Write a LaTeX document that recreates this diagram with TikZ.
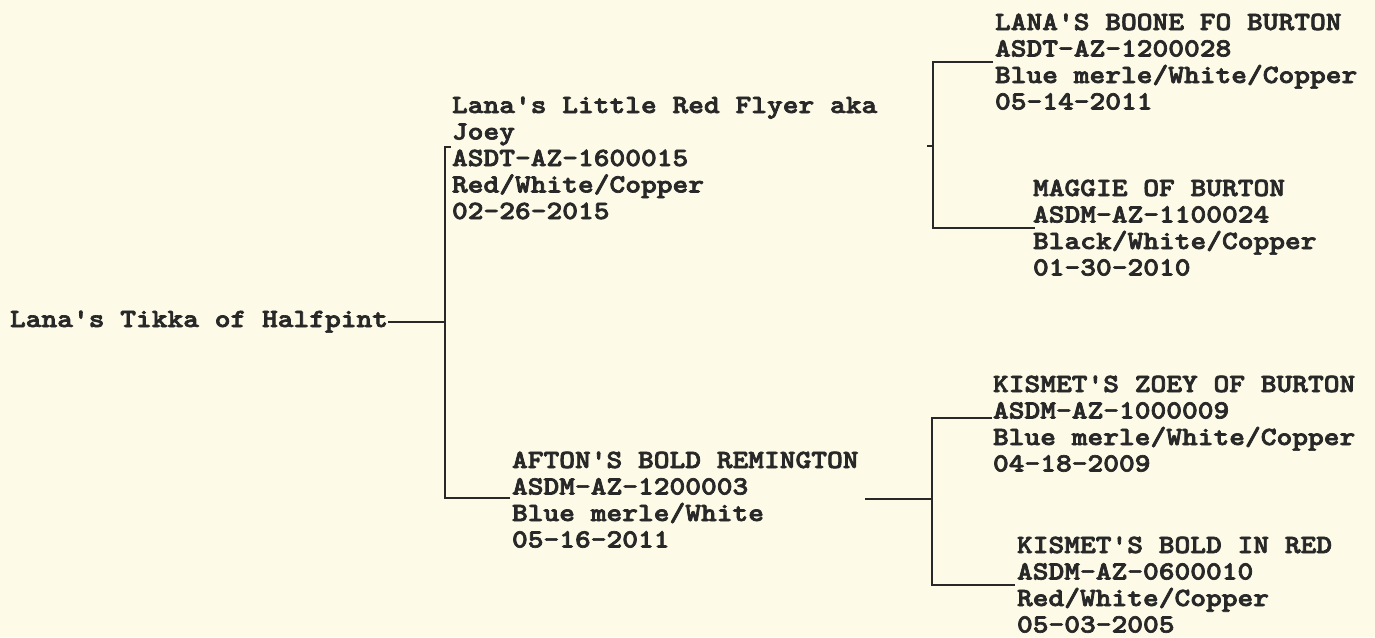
\documentclass[tikz,border=0pt]{standalone}
\usepackage{graphicx}
\usepackage{fontspec}
\newfontfamily\pedfont[FakeBold=2.5]{lmmonolt10-bold.otf}
\definecolor{paper}{RGB}{253,251,231}
\definecolor{ink}{RGB}{40,40,40}
\newcommand\pedlines[1]{\scalebox{1.143}[1]{\begin{tabular}[t]{@{}l@{}}#1\end{tabular}}}
\begin{document}
\begin{tikzpicture}[x=1pt,y=-1pt,
  ped/.style={anchor=base west, inner sep=0pt, outer sep=0pt, text=ink,
    font=\fontsize{26.25}{26.5}\selectfont\pedfont},
  link/.style={draw=ink, line width=2.4pt}]
\fill[paper] (0,0) rectangle (1375,637);
\useasboundingbox (0,0) rectangle (1375,637);

\node[ped] (tikka) at (10,327) {\pedlines{Lana's Tikka of Halfpint}};
\node[ped] (joey) at (452,113) {\pedlines{Lana's Little Red Flyer aka\\Joey\\ASDT-AZ-1600015\\Red/White/Copper\\02-26-2015}};
\node[ped] (afton) at (512,468) {\pedlines{AFTON'S BOLD REMINGTON\\ASDM-AZ-1200003\\Blue merle/White\\05-16-2011}};
\node[ped] (boone) at (995,30) {\pedlines{LANA'S BOONE FO BURTON\\ASDT-AZ-1200028\\Blue merle/White/Copper\\05-14-2011}};
\node[ped] (maggie) at (1033,196) {\pedlines{MAGGIE OF BURTON\\ASDM-AZ-1100024\\Black/White/Copper\\01-30-2010}};
\node[ped] (zoey) at (993,392) {\pedlines{KISMET'S ZOEY OF BURTON\\ASDM-AZ-1000009\\Blue merle/White/Copper\\04-18-2009}};
\node[ped] (kbold) at (1017,553) {\pedlines{KISMET'S BOLD IN RED\\ASDM-AZ-0600010\\Red/White/Copper\\05-03-2005}};

% first generation bracket
\coordinate (atop) at (445,147);
\coordinate (abot) at (445,498);
\coordinate (atick) at (451,147);
\coordinate (aend) at (510,498);
\draw[link] (tikka.east) -- (tikka.east -| atop);
\draw[link] (atick) -- (atop) -- (abot) -- (aend);

% upper second generation bracket
\coordinate (btop) at (933,62);
\coordinate (bbot) at (933,228);
\coordinate (bmid) at (933,146);
\coordinate (bin) at (927,146);
\coordinate (btopend) at (993,62);
\coordinate (bbotend) at (1035,228);
\draw[link] (btopend) -- (btop) -- (bbot) -- (bbotend);
\draw[link] (bin) -- (bmid);

% lower second generation bracket
\coordinate (cin) at (865,499);
\coordinate (cmid) at (932,499);
\coordinate (ctop) at (932,418);
\coordinate (cbot) at (932,585);
\coordinate (ctopend) at (992,418);
\coordinate (cbotend) at (1015,585);
\draw[link] (cin) -- (cmid);
\draw[link] (ctopend) -- (ctop) -- (cbot) -- (cbotend);
\end{tikzpicture}
\end{document}
